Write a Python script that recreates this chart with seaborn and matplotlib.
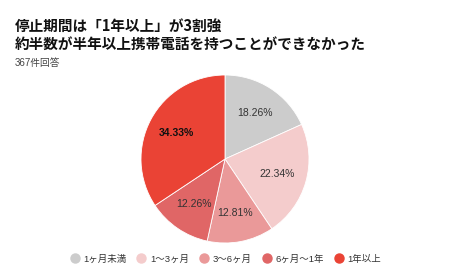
import matplotlib
matplotlib.use('Agg')
import matplotlib.pyplot as plt
from matplotlib.lines import Line2D
import numpy as np
import seaborn as sns

categories = ['1ヶ月未満', '1〜3ヶ月', '3〜6ヶ月', '6ヶ月〜1年', '1年以上']
shares = [18.26, 22.34, 12.81, 12.26, 34.33]
colors = ['#cccccc', '#f4cccc', '#ea9999', '#e06666', '#ea4335']

title = '停止期間は「1年以上」が3割強\n約半数が半年以上携帯電話を持つことができなかった'
subtitle = '367件回答'

sns.set_theme(style='white')
plt.rcParams['font.family'] = ['Liberation Sans', 'Noto Sans CJK JP', 'DejaVu Sans']

fig = plt.figure(figsize=(4.5, 2.78), dpi=100)
fig.patch.set_facecolor('white')

# pie centre ~ (225,159) px, radius ~84 px
ax = fig.add_axes([(225 - 84) / 450, (278 - 159 - 84) / 278, 168 / 450, 168 / 278])
wedges, texts = ax.pie(shares, colors=colors, startangle=90, counterclock=False,
                       wedgeprops=dict(linewidth=0.6, edgecolor='white'))
ax.set_xlim(-1, 1)
ax.set_ylim(-1, 1)
ax.set_aspect('equal')

for w, v in zip(wedges, shares):
    ang = np.deg2rad((w.theta1 + w.theta2) / 2)
    x, y = 0.65 * np.cos(ang), 0.65 * np.sin(ang)
    big = v == max(shares)
    ax.text(x, y, f'{v:.2f}%', ha='center', va='center', fontsize=7.5,
            color='#111111' if big else '#333333',
            fontweight='bold' if big else 'normal')

fig.text(0.033, 0.937, title, ha='left', va='top', fontsize=10.5, fontweight='bold',
         linespacing=1.15, color='#111111',
         family=['Noto Sans CJK JP', 'DejaVu Sans'])
fig.text(0.033, 0.79, subtitle, ha='left', va='top', fontsize=7, color='#444444')

handles = [Line2D([0], [0], marker='o', linestyle='', markersize=6.5,
                  markerfacecolor=c, markeredgecolor=c) for c in colors]
fig.legend(handles, categories, ncol=5, loc='center', bbox_to_anchor=(0.5, 0.068),
           frameon=False, fontsize=6.8, handletextpad=0.3, handlelength=1.2,
           columnspacing=1.0, labelcolor='#333333')

fig.savefig('out.png', dpi=100, facecolor='white')
